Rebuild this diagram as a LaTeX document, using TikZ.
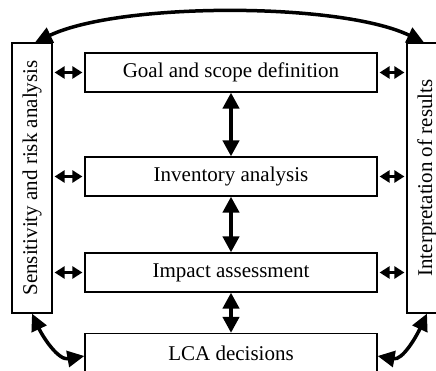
\documentclass[tikz,border=0pt]{standalone}
\usepackage{fontspec}
\setmainfont{Liberation Serif}
\usetikzlibrary{arrows.meta}
\begin{document}
\begin{tikzpicture}[x=1pt,y=-1pt,
  stage/.style={draw,line width=1.2pt,minimum width=292pt,minimum height=39pt,
    inner sep=0pt,font=\fontsize{21}{24}\selectfont},
  side/.style={draw,line width=1.2pt,minimum width=40pt,minimum height=270pt,
    inner sep=0pt,font=\fontsize{21}{24}\selectfont},
  vlink/.style={line width=4pt,
    {Triangle[length=16pt,width=16pt]}-{Triangle[length=16pt,width=16pt]}},
  hlink/.style={line width=3pt,shorten <=2pt,shorten >=2pt,
    {Triangle[length=10pt,width=12pt]}-{Triangle[length=10pt,width=12pt]}},
  arc/.style={line width=3.5pt,
    {Triangle[length=17pt,width=16pt]}-{Triangle[length=17pt,width=16pt]}}]
  \useasboundingbox (0,0) rectangle (436,371);
  \clip (0,0) rectangle (436,371);

  % side frames
  \node[side] (sens) at (32,178) {\rotatebox{90}{Sensitivity and risk analysis}};
  \node[side] (interp) at (427,178) {\rotatebox{90}{Interpretation of results}};

  % main phases
  \node[stage] (goal) at (231,72.5) {Goal and scope definition};
  \node[stage] (inv) at (231,176.5) {Inventory analysis};
  \node[stage] (imp) at (231,272.5) {Impact assessment};
  \node[stage] (lca) at (231,353) {LCA decisions};

  % vertical links between phases
  \draw[vlink] (goal.south) -- (inv.north);
  \draw[vlink] (inv.south) -- (imp.north);
  \draw[vlink] (imp.south) -- (lca.north);

  % links to the side frames
  \foreach \n in {goal,inv,imp}{
    \draw[hlink] (sens.east |- \n.west) -- (\n.west);
    \draw[hlink] (\n.east) -- (interp.west |- \n.east);
  }

  % top arc between the side frames
  \draw[arc] ([xshift=3pt]sens.north) .. controls (120,2) and (340,2) .. ([xshift=-3pt]interp.north);

  % bottom arcs to the decisions box
  \draw[arc] (sens.south) to[out=-65,in=190] ([yshift=-3pt]lca.west);
  \draw[arc] (interp.south) to[out=-115,in=-10] ([yshift=-3pt]lca.east);
\end{tikzpicture}
\end{document}
